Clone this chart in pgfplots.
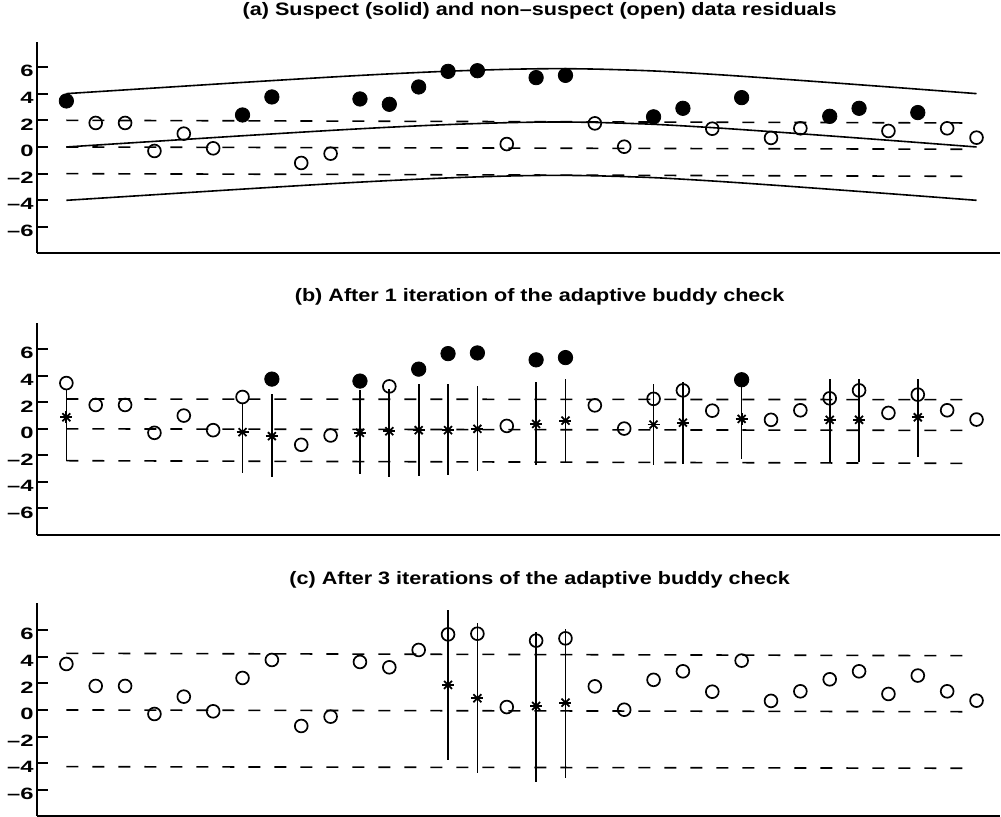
\documentclass[border=0pt]{standalone}
\usepackage{pgfplots}
\pgfplotsset{compat=1.18}
\usepackage{pgfplotstable}
\usepackage{fontspec}
\setmainfont{Liberation Sans}
\newfontfamily\titlefont[FakeStretch=1.2]{Liberation Sans}
\newfontfamily\tickfont[FakeStretch=1.45]{Liberation Sans}

% residuals: x = station index, y = residual
\pgfplotstableread{
x y
1 3.45
7 2.4
8 3.75
11 3.6
12 3.2
13 4.5
14 5.67
15 5.72
17 5.2
18 5.37
21 2.26
22 2.9
24 3.7
27 2.3
28 2.9
30 2.58
}\suspA
\pgfplotstableread{
x y
2 1.8
3 1.8
4 -0.3
5 1.0
6 -0.1
9 -1.2
10 -0.5
16 0.22
19 1.77
20 0.02
23 1.37
25 0.68
26 1.4
29 1.2
31 1.4
32 0.7
}\openA
\pgfplotstableread{
x y
8 3.75
11 3.6
13 4.5
14 5.67
15 5.72
17 5.2
18 5.37
24 3.7
}\suspB
\pgfplotstableread{
x y
1 3.45
2 1.8
3 1.8
4 -0.3
5 1.0
6 -0.1
7 2.4
9 -1.2
10 -0.5
12 3.2
16 0.22
19 1.77
20 0.02
21 2.26
22 2.9
23 1.37
25 0.68
26 1.4
27 2.3
28 2.9
29 1.2
30 2.58
31 1.4
32 0.7
}\openB
\pgfplotstableread{
x y
1 3.45
2 1.8
3 1.8
4 -0.3
5 1.0
6 -0.1
7 2.4
8 3.75
9 -1.2
10 -0.5
11 3.6
12 3.2
13 4.5
14 5.67
15 5.72
16 0.22
17 5.2
18 5.37
19 1.77
20 0.02
21 2.26
22 2.9
23 1.37
24 3.7
25 0.68
26 1.4
27 2.3
28 2.9
29 1.2
30 2.58
31 1.4
32 0.7
}\openC
% buddy estimates with their ranges
\pgfplotstableread{
x y top bot
1 0.87 3.0 -2.4
7 -0.25 1.9 -3.3
8 -0.55 2.6 -3.6
11 -0.3 2.9 -3.4
12 -0.18 3.0 -3.6
13 -0.1 3.4 -3.55
14 -0.1 3.4 -3.45
15 0.0 3.2 -3.2
17 0.37 3.5 -2.7
18 0.62 3.75 -2.5
21 0.32 3.4 -2.75
22 0.47 3.55 -2.65
24 0.75 3.25 -2.25
27 0.68 3.75 -2.5
28 0.68 3.75 -2.5
30 0.87 3.75 -2.1
}\buddyB
\pgfplotstableread{
x y top bot
14 1.88 7.5 -3.75
15 0.88 6.5 -4.75
17 0.3 5.87 -5.4
18 0.55 6.1 -5.1
}\buddyC
% envelope curves in (a)
\pgfplotstableread{
x up mid lo
1 4.0 0.0 -4.0
4 4.42 0.42 -3.58
7 4.84 0.84 -3.16
10 5.24 1.24 -2.76
12 5.48 1.48 -2.52
14 5.68 1.68 -2.32
16 5.82 1.82 -2.18
17.5 5.87 1.87 -2.13
19 5.84 1.84 -2.16
21 5.7 1.7 -2.3
23 5.45 1.45 -2.55
25 5.15 1.15 -2.85
27 4.83 0.83 -3.17
29.5 4.42 0.42 -3.58
32 4.0 0.0 -4.0
}\curveA

\pgfplotsset{
  panel/.style={
    scale only axis, width=481.5pt, xmin=0, xmax=32.8,
    axis x line=bottom, axis y line=left,
    axis line style={-, line width=1pt, black},
    xtick=\empty, ytick={-6,-4,-2,0,2,4,6},
    yticklabels={–6,–4,–2,0,2,4,6},
    tick align=inside, major tick length=5.5pt,
    tick style={line width=1pt, black},
    yticklabel style={font=\tickfont\bfseries\fontsize{8.2}{9}\selectfont, inner sep=0pt, xshift=-1.5pt, yshift=-2pt},
    title style={font=\titlefont\bfseries\fontsize{9}{11}\selectfont, at={(0.522,1)}, anchor=base, inner sep=0pt},
    clip=false,
  },
  openm/.style={only marks, mark=o, mark size=3.2pt, mark options={line width=0.85pt, black}},
  fillm/.style={only marks, mark=*, mark size=3.6pt, mark options={black, fill=black}},
  dl/.style={black, line width=0.8pt, dash pattern=on 6pt off 7pt},
  sl/.style={black, line width=0.8pt, smooth},
  buddy/.style={only marks, mark=x, mark size=2.8pt, mark options={line width=0.9pt, black},
    error bars/.cd, y dir=both, y explicit, error mark=none,
    error bar style={line width=0.85pt, black, solid}},
  star2/.style={only marks, mark=+, mark size=3pt, mark options={line width=0.9pt, black}},
}

\begin{document}
\begin{tikzpicture}
% (a)
\begin{axis}[panel, anchor=south west, at={(18.5pt,-126.5pt)}, height=105.5pt,
  ymin=-7.95, ymax=7.87,
  title={(a) Suspect (solid) and non–suspect (open) data residuals},
  title style={yshift=7.5pt}]
  \addplot[sl] table[x=x, y=up] {\curveA};
  \addplot[sl] table[x=x, y=mid] {\curveA};
  \addplot[sl] table[x=x, y=lo] {\curveA};
  \addplot[dl] coordinates {(1,2.0) (31.6,1.8)};
  \addplot[dl] coordinates {(1,0.0) (31.6,-0.17)};
  \addplot[dl] coordinates {(1,-2.0) (31.6,-2.2)};
  \addplot[openm] table {\openA};
  \addplot[fillm] table {\suspA};
\end{axis}
% (b)
\begin{axis}[panel, anchor=south west, at={(18.5pt,-267.5pt)}, height=106.15pt,
  ymin=-8, ymax=8,
  title={(b) After 1 iteration of the adaptive buddy check},
  title style={yshift=4.5pt}]
  \addplot[dl] coordinates {(1,2.25) (31.6,2.2)};
  \addplot[dl] coordinates {(1,0.0) (31.6,-0.12)};
  \addplot[dl] coordinates {(1,-2.4) (31.6,-2.6)};
  \addplot[buddy] table[x=x, y=y, y error plus expr=\thisrow{top}-\thisrow{y}, y error minus expr=\thisrow{y}-\thisrow{bot}] {\buddyB};
  \addplot[star2] table[x=x, y=y] {\buddyB};
  \addplot[openm] table {\openB};
  \addplot[fillm] table {\suspB};
\end{axis}
% (c)
\begin{axis}[panel, anchor=south west, at={(18.5pt,-408pt)}, height=106.35pt,
  ymin=-7.95, ymax=8,
  title={(c) After 3 iterations of the adaptive buddy check},
  title style={yshift=3.2pt}]
  \addplot[dl] coordinates {(1,4.25) (31.6,4.07)};
  \addplot[dl] coordinates {(1,0.0) (31.6,-0.13)};
  \addplot[dl] coordinates {(1,-4.25) (31.6,-4.37)};
  \addplot[buddy] table[x=x, y=y, y error plus expr=\thisrow{top}-\thisrow{y}, y error minus expr=\thisrow{y}-\thisrow{bot}] {\buddyC};
  \addplot[star2] table[x=x, y=y] {\buddyC};
  \addplot[openm] table {\openC};
\end{axis}
\pgfresetboundingbox
\useasboundingbox (0,0) rectangle (500.5pt,-408.5pt);
\end{tikzpicture}
\end{document}
